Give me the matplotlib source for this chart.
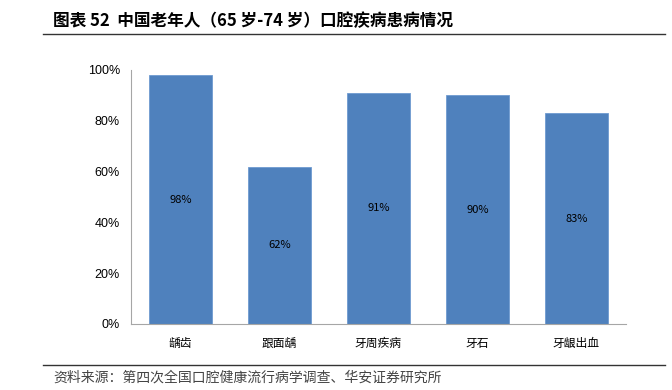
import matplotlib
matplotlib.use("Agg")
import matplotlib.pyplot as plt
from matplotlib.lines import Line2D

plt.rcParams['font.family'] = ['Liberation Sans', 'Noto Sans CJK SC', 'DejaVu Sans']

categories = ["龋齿", "跟面龋", "牙周疾病", "牙石", "牙龈出血"]
values = [98, 62, 91, 90, 83]
yticks = [0, 20, 40, 60, 80, 100]
title = "图表 52  中国老年人（65 岁-74 岁）口腔疾病患病情况"
source = "资料来源：第四次全国口腔健康流行病学调查、华安证券研究所"

fig = plt.figure(figsize=(6.72, 3.9), dpi=100)
ax = fig.add_axes([131/672, 1 - 324/390, (626 - 131)/672, (324 - 70)/390])

x = list(range(len(categories)))
bars = ax.bar(x, values, width=0.63, color="#4F81BD", edgecolor="#6F9AD0", linewidth=0.6)
for xi, v in zip(x, values):
    ax.text(xi, v / 2, f"{v}%", ha="center", va="center", fontsize=8,
            family=['Noto Sans CJK SC', 'DejaVu Sans'], color="#000000")

ax.set_xlim(-0.5, len(categories) - 0.5)
ax.set_ylim(0, 100)
ax.set_yticks(yticks)
ax.set_yticklabels([f"{t}%" for t in yticks], fontsize=9)
ax.set_xticks(x)
ax.set_xticklabels(categories, fontsize=8.5, family=['Noto Sans CJK SC', 'DejaVu Sans'])
ax.tick_params(axis="both", length=0, pad=8)
ax.tick_params(axis="x", pad=9)
for s in ["top", "right"]:
    ax.spines[s].set_visible(False)
ax.spines["left"].set_color("#A6A6A6")
ax.spines["bottom"].set_color("#A6A6A6")
ax.spines["left"].set_linewidth(0.8)
ax.spines["bottom"].set_linewidth(0.8)

fig.text(53/672, 1 - 21/390, title, fontsize=12, fontweight="bold",
         family=['Noto Sans CJK SC', 'DejaVu Sans'], ha="left", va="center")
fig.add_artist(Line2D([43/672, 665/672], [1 - 34/390, 1 - 34/390], color="#333333", linewidth=1.0))
fig.add_artist(Line2D([43/672, 665/672], [1 - 365/390, 1 - 365/390], color="#333333", linewidth=1.0))
fig.text(53/672, 1 - 378/390, source, fontsize=10, color="#444444",
         family=['Noto Sans CJK SC', 'DejaVu Sans'], ha="left", va="center")

fig.savefig("out.png", dpi=100)
